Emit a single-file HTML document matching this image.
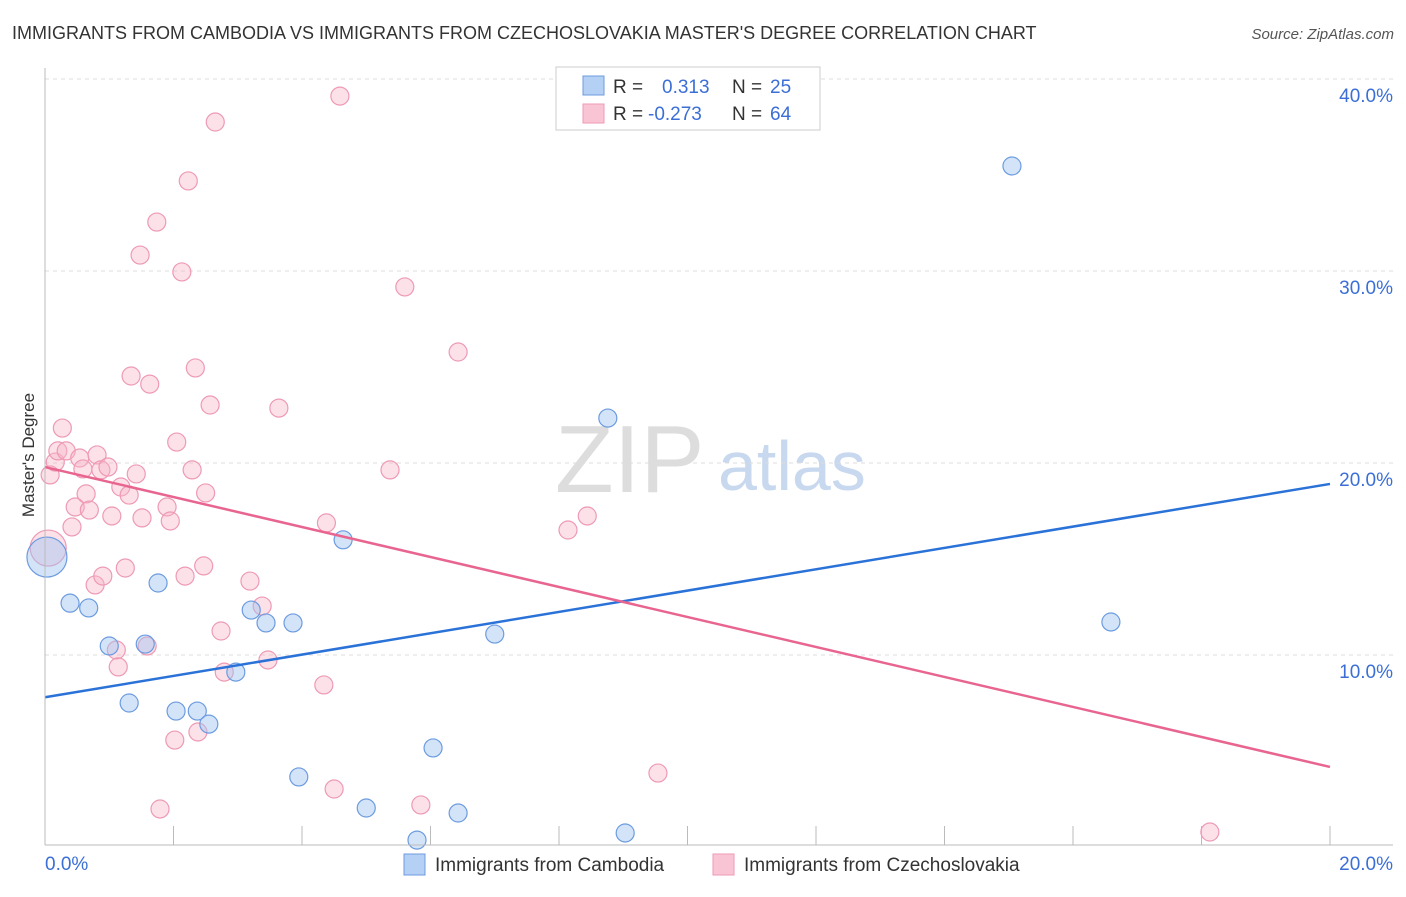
<!DOCTYPE html>
<html><head><meta charset="utf-8"><style>
body{margin:0;background:#fff;font-family:"Liberation Sans",sans-serif;}
svg text{font-family:"Liberation Sans",sans-serif;}
</style></head><body>
<svg id="chart" width="1406" height="892">
<text x="12" y="39" font-size="18" fill="#333">IMMIGRANTS FROM CAMBODIA VS IMMIGRANTS FROM CZECHOSLOVAKIA MASTER'S DEGREE CORRELATION CHART</text>
<text x="1394" y="39" font-size="15" fill="#555" font-style="italic" text-anchor="end">Source: ZipAtlas.com</text>
<text x="555" y="492" font-size="96" fill="#ddd" font-family="Liberation Serif">ZIP</text>
<text x="718" y="490" font-size="70" fill="#c8d8ee">atlas</text>
<text transform="translate(34,455) rotate(-90)" font-size="17" fill="#333" text-anchor="middle">Master's Degree</text>
<g id="grid"></g><g id="pts"></g><g id="trend"></g>
<line x1="45" y1="68" x2="45" y2="845" stroke="#bbb"/>
<line x1="45" y1="845" x2="1393" y2="845" stroke="#bbb"/>
<text x="45" y="870" font-size="19" fill="#3b6fd6">0.0%</text>
<text x="1393" y="870" font-size="19" fill="#3b6fd6" text-anchor="end">20.0%</text>
<g>
<rect x="556" y="67" width="264" height="63" fill="#fff" stroke="#ccc"/>
<rect x="583" y="76" width="21" height="19" fill="#b5d0f5" stroke="#6c9be0"/>
<rect x="583" y="104" width="21" height="19" fill="#f9c5d5" stroke="#ee9ab5"/>
<text x="613" y="93" font-size="19" fill="#333">R =</text>
<text x="662" y="93" font-size="19" fill="#3b6fd6">0.313</text>
<text x="732" y="93" font-size="19" fill="#333">N =</text>
<text x="770" y="93" font-size="19" fill="#3b6fd6">25</text>
<text x="613" y="120" font-size="19" fill="#333">R =</text>
<text x="648" y="120" font-size="19" fill="#3b6fd6">-0.273</text>
<text x="732" y="120" font-size="19" fill="#333">N =</text>
<text x="770" y="120" font-size="19" fill="#3b6fd6">64</text>
</g>
<g><rect x="404" y="854" width="21" height="21" fill="#b5d0f5" stroke="#6c9be0"/><text x="435" y="871" font-size="19" fill="#333">Immigrants from Cambodia</text></g>
<g><rect x="713" y="854" width="21" height="21" fill="#f9c5d5" stroke="#ee9ab5"/><text x="744" y="871" font-size="19" fill="#333">Immigrants from Czechoslovakia</text></g>
</svg>
<script>
const yTicks=[10,20,30,40];
const yTickLabels=["10.0%","20.0%","30.0%","40.0%"];
const xTicks=[1,2,3,4,5,6,7,8,9,10];
const blueX=[0.03,0.39,0.68,1.0,1.31,1.56,1.76,2.04,2.37,2.55,2.97,3.21,3.44,3.86,3.95,4.64,5.0,5.79,6.04,6.43,7.0,8.76,9.03,15.05,16.59];
const blueY=[15.1,12.7,12.45,10.47,7.5,10.57,13.75,7.08,7.08,6.4,9.11,12.34,11.67,11.67,3.65,16.0,2.03,0.36,5.16,1.77,11.09,22.34,0.73,35.47,11.72];
const pinkX=[0.05,0.08,0.16,0.2,0.27,0.33,0.42,0.47,0.54,0.59,0.64,0.69,0.78,0.81,0.87,0.9,0.98,1.04,1.11,1.14,1.18,1.25,1.31,1.34,1.42,1.48,1.51,1.59,1.63,1.74,1.9,1.95,2.02,2.05,2.13,2.18,2.23,2.29,2.34,2.38,2.47,2.5,2.57,2.65,2.74,2.79,3.19,3.38,3.47,3.64,4.34,4.38,4.5,4.59,5.37,5.6,5.85,6.43,8.14,8.44,9.54,18.13,1.79];
const pinkY=[15.57,19.38,20.05,20.63,21.82,20.63,16.67,17.71,20.26,19.69,18.39,17.55,13.65,20.42,19.64,14.11,19.79,17.24,10.26,9.38,18.75,14.53,18.33,24.53,19.43,30.83,17.14,10.47,24.11,32.55,17.71,16.98,5.57,21.09,29.95,14.11,34.69,19.64,24.95,5.99,14.64,18.44,23.02,37.76,11.25,9.11,13.85,12.55,9.74,22.86,8.44,16.88,3.02,39.11,19.64,29.17,2.19,25.78,16.51,17.24,3.85,0.78,1.98];
const blueTrend=[7.8,18.91];
const pinkTrend=[19.79,4.17];
const ns="http://www.w3.org/2000/svg";
const X=v=>45+v/20*1285, Y=v=>847-v/10*192;
function mk(t,a,p){const e=document.createElementNS(ns,t);for(const k in a)e.setAttribute(k,a[k]);p.appendChild(e);return e;}
const g=document.getElementById('grid');
yTicks.forEach((t,i)=>{
 const l=mk('line',{x1:45,x2:1393,y1:Y(t),y2:Y(t),stroke:'#ddd','stroke-dasharray':'4,4'},g);
 
 
 const tx=mk('text',{x:1393,y:Y(t)+23,'font-size':19,fill:'#3b6fd6','text-anchor':'end'},g);
 tx.textContent=yTickLabels[i];
 
 
});
xTicks.forEach(t=>{
 const l=mk('line',{x1:X(t*2),x2:X(t*2),y1:826,y2:845,stroke:'#bbb'},g);
 
 
});
const p=document.getElementById('pts');
function dots(xs,ys,fill,stroke,name){xs.forEach((x,i)=>{
 const r=(i===0&&x<0.1)?(name==='blue-point'?20:18):9;
 const c=mk('circle',{cx:X(x),cy:Y(ys[i]),r:r,fill:fill,stroke:stroke,'stroke-width':1.2},p);
 
 
});}
dots(pinkX,pinkY,'rgba(248,180,200,0.4)','#ee9ab5','pink-point');
dots(blueX,blueY,'rgba(160,196,240,0.45)','#6c9be0','blue-point');
const tr=document.getElementById('trend');
const b=mk('line',{x1:X(0),y1:Y(blueTrend[0]),x2:X(20),y2:Y(blueTrend[1]),stroke:'#2a72d8','stroke-width':2.5},tr);


const q=mk('line',{x1:X(0),y1:Y(pinkTrend[0]),x2:X(20),y2:Y(pinkTrend[1]),stroke:'#e86590','stroke-width':2.5},tr);


</script>
</body></html>
